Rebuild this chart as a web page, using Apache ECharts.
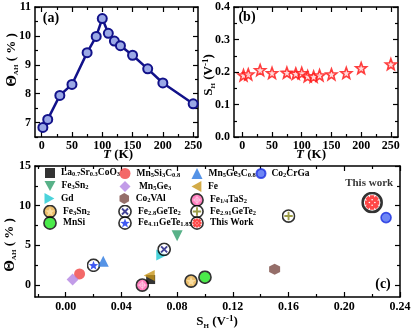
<!DOCTYPE html>
<html>
<head>
<meta charset="utf-8">
<script src="https://cdn.jsdelivr.net/npm/echarts@6/dist/echarts.min.js"></script>
<style>
  html, body { margin: 0; padding: 0; background: #fff; }
  #chart { width: 415px; height: 335px; }
</style>
</head>
<body>
<div id="chart"></div>
<script>
// (a)(b) temperature data
const tempK = [2, 10, 30, 50, 75, 90, 100, 110, 120, 130, 150, 175, 200, 250];
const thetaAH = [6.83, 7.11, 7.94, 8.32, 9.42, 9.98, 10.6, 10.09, 9.82, 9.66, 9.33, 8.86, 8.37, 7.65];
const sHvsT = [0.190, 0.193, 0.206, 0.197, 0.198, 0.195, 0.197, 0.187, 0.186, 0.190, 0.193, 0.197, 0.212, 0.224];

// (c) comparison of materials
const matIds = ['LSCO', 'Fe3Sn2-a', 'Gd', 'Fe3Sn2-b', 'MnSi', 'Mn5Si3C', 'Mn5Ge3', 'Co2VAl', 'Fe28GeTe2',
  'Fe411GeTe185', 'Mn5Ge3C', 'Fe', 'FeTaS2', 'Fe291GeTe2', 'ThisWork', 'Co2CrGa'];
const matLabels = ['La{s|0.7}Sr{s|0.3}CoO{s|3}', 'Fe{s|3}Sn{s|2}', 'Gd', 'Fe{s|3}Sn{s|2}', 'MnSi',
  'Mn{s|5}Si{s|3}C{s|0.8}', ' Mn{s|5}Ge{s|3}', 'Co{s|2}VAl', 'Fe{s|2.8}GeTe{s|2}', 'Fe{s|4.11}GeTe{s|1.85}',
  'Mn{s|5}Ge{s|3}C{s|0.8}', 'Fe', 'Fe{s|1/4}TaS{s|2}', 'Fe{s|2.91}GeTe{s|2}', 'This Work', 'Co{s|2}CrGa'];
const matSH = [0.061, 0.080, 0.069, 0.090, 0.100, 0.010, 0.005, 0.150, 0.0707, 0.020, 0.027, 0.060, 0.055, 0.160, 0.220, 0.230];
const matTheta = [0.7, 6.2, 3.8, 0.5, 1.0, 1.4, 0.7, 2.0, 4.5, 2.5, 3.0, 1.2, 0.0, 8.7, 10.4, 8.5];

// tick labels
const ticksT = [0, 50, 100, 150, 200, 250];
const minorT = [25, 75, 125, 175, 225];
const ticksThetaA = [7, 8, 9, 10, 11];
const minorThetaA = [6.5, 7.5, 8.5, 9.5, 10.5];
const ticksSB = [0, 0.1, 0.2, 0.3, 0.4];
const minorSB = [0.05, 0.15, 0.25, 0.35];
const ticksSC = [0, 0.04, 0.08, 0.12, 0.16, 0.2, 0.24];
const minorSC = [-0.02, 0.02, 0.06, 0.1, 0.14, 0.18, 0.22];
const ticksThetaC = [0, 5, 10, 15];
const minorThetaC = [2.5, 7.5, 12.5];

const fontFam = '"Liberation Serif", "Times New Roman", serif';

// 坐标轴：主刻度+次刻度，四边都画
function tickAxes (dim, gi, min, max, major, minor, fmt, margin) {
  const sides = dim === 'x' ? ['bottom', 'top'] : ['left', 'right'];
  const list = [];
  sides.forEach((pos, k) => {
    list.push({
      gridIndex: gi, type: 'value', min: min, max: max, position: pos,
      splitLine: { show: false },
      axisLine: { show: true, onZero: false, lineStyle: { color: '#000', width: 1.5 } },
      axisTick: { show: true, inside: true, length: 5, customValues: major, lineStyle: { color: '#000', width: 1.2 } },
      axisLabel: k === 0
        ? { show: true, customValues: major, formatter: fmt, margin: margin, color: '#000', fontFamily: fontFam, fontWeight: 'bold', fontSize: 12 }
        : { show: false }
    });
    list.push({
      gridIndex: gi, type: 'value', min: min, max: max, position: pos,
      splitLine: { show: false },
      axisLine: { show: false, onZero: false },
      axisTick: { show: true, inside: true, length: 3, customValues: minor, lineStyle: { color: '#000', width: 1.2 } },
      axisLabel: { show: false }
    });
  });
  return list;
}

function starPoints (cx, cy, R, r) {
  const pts = [];
  for (let k = 0; k < 10; k++) {
    const a = -Math.PI / 2 + k * Math.PI / 5;
    const rad = k % 2 ? r : R;
    pts.push((cx + rad * Math.cos(a)).toFixed(2) + ',' + (cy + rad * Math.sin(a)).toFixed(2));
  }
  return pts;
}
const starPath = 'path://M' + starPoints(50, 50, 50, 21).join(' L') + ' Z';

// 圆圈+内部符号
function ringIcon (fill, inner) {
  const svg = '<svg xmlns="http://www.w3.org/2000/svg" width="48" height="48" viewBox="0 0 24 24">' +
    '<circle cx="12" cy="12" r="10.4" fill="' + fill + '" stroke="#000" stroke-width="2.8"/>' + inner + '</svg>';
  return 'image://data:image/svg+xml;charset=utf-8,' + encodeURIComponent(svg);
}
const starIn = c => '<polygon points="' + starPoints(12, 12.8, 8.6, 3.6).join(' ') + '" fill="' + c + '"/>';
const crossIn = (c, w) => '<path d="M6.8 6.8L17.2 17.2M17.2 6.8L6.8 17.2" stroke="' + c + '" stroke-width="' + w + '"/>';
const plusIn = (c, w) => '<path d="M12 4.8V19.2M4.8 12H19.2" stroke="' + c + '" stroke-width="' + w + '"/>';
const burstIn = '<path d="M6.2 6.2L17.8 17.8M17.8 6.2L6.2 17.8M12 4.2V19.8M4.2 12H19.8" stroke="#ff1a1a" stroke-width="4.6"/>' +
  '<circle cx="12" cy="12" r="5" fill="#ff1a1a"/>' +
  '<circle cx="9" cy="12" r="0.9" fill="#fff"/><circle cx="15" cy="12" r="0.9" fill="#fff"/>' +
  '<circle cx="12" cy="9" r="0.9" fill="#fff"/><circle cx="12" cy="15" r="0.9" fill="#fff"/>';

const matSymbol = [
  'rect', 'path://M0,0 L10,0 L5,9 Z', 'path://M0,0 L0,10 L9,5 Z', ringIcon('#e6ad45', starIn('#f8d58a')),
  ringIcon('#1ee61e', ''), 'circle', 'diamond', 'path://M5,0 L9.33,2.5 L9.33,7.5 L5,10 L0.67,7.5 L0.67,2.5 Z',
  ringIcon('#fff', crossIn('#16167e', 3.2)), ringIcon('#fff', starIn('#1030f0')), 'triangle', 'path://M9,0 L9,10 L0,5 Z',
  ringIcon('#ff5fae', plusIn('#ffc6e3', 1.4) + '<circle cx="12" cy="12" r="4.2" fill="none" stroke="#ffc6e3" stroke-width="1.3"/>'),
  ringIcon('#fff', plusIn('#85851a', 3.2)), ringIcon('#fff', burstIn), 'circle'
];
const matColor = ['#000', '#2e9e6a', '#1ec8d2', '#000', '#000', '#f04444', '#b383e2', '#7a4a44', '#000',
  '#000', '#2a78e0', '#c8961a', '#000', '#000', '#000', '#3c5cf0'];
const matSize = [9, 11, 11, 14, 14, 11, 12, 11, 14, 14, 11, 11, 14, 14, 22, 10];
const legendSize = [10, 11, 11, 14, 14, 11, 11, 11, 14, 14, 11, 11, 14, 14, 14, 9];
const legendCol = [0, 0, 0, 0, 0, 1, 1, 1, 1, 1, 2, 2, 2, 2, 2, 3];
const legendRow = [0, 1, 2, 3, 4, 0, 1, 2, 3, 4, 0, 1, 2, 3, 4, 0];
const colX = [50, 125, 197, 260];
const rowY = [175, 188, 200, 211.5, 223];

const richSub = {
  s: { fontSize: 6.5, fontFamily: fontFam, fontWeight: 'bold', color: '#000', verticalAlign: 'bottom', lineHeight: 8 }
};

const titleRich = {
  th: { fontSize: 15, fontFamily: fontFam, fontWeight: 'bold', fill: '#000' },
  b: { fontSize: 13, fontFamily: fontFam, fontWeight: 'bold', fill: '#000' },
  it: { fontSize: 13, fontFamily: fontFam, fontWeight: 'bold', fontStyle: 'italic', fill: '#000' },
  sub: { fontSize: 7, fontFamily: fontFam, fontWeight: 'bold', fill: '#000', verticalAlign: 'bottom' },
  sup: { fontSize: 9, fontFamily: fontFam, fontWeight: 'bold', fill: '#000', verticalAlign: 'top' }
};
function title (text, x, y, rot) {
  return {
    type: 'text', x: x, y: y, rotation: rot ? Math.PI / 2 : 0,
    style: { text: text, align: 'center', verticalAlign: 'middle', rich: titleRich, lineHeight: 16 }
  };
}
function panelTag (text, x, y) {
  return {
    type: 'text', x: x, y: y,
    style: { text: text, align: 'center', verticalAlign: 'middle', fill: '#000', font: 'bold 14px ' + fontFam }
  };
}

const fmt0 = v => String(v);
const xAxes = [].concat(
  tickAxes('x', 0, -11, 258, ticksT, minorT, fmt0, 3),
  tickAxes('x', 1, -14, 262, ticksT, minorT, fmt0, 3),
  tickAxes('x', 2, -0.022, 0.24, ticksSC, minorSC, v => v.toFixed(2), 4)
);
const yAxes = [].concat(
  tickAxes('y', 0, 6.5, 11, ticksThetaA, minorThetaA, fmt0, 4),
  tickAxes('y', 1, 0, 0.4, ticksSB, minorSB, v => v.toFixed(1), 4),
  tickAxes('y', 2, -1.5, 15, ticksThetaC, minorThetaC, fmt0, 4)
);

const series = [
  {
    name: 'thetaT', type: 'line', xAxisIndex: 0, yAxisIndex: 0,
    data: tempK.map((t, i) => [t, thetaAH[i]]),
    symbol: 'circle', symbolSize: 9,
    lineStyle: { color: '#12128a', width: 2.5 },
    itemStyle: { color: '#9aa8e6', borderColor: '#12128a', borderWidth: 2 }
  },
  {
    name: 'sHT', type: 'scatter', xAxisIndex: 4, yAxisIndex: 4,
    data: tempK.map((t, i) => [t, sHvsT[i]]),
    symbol: starPath, symbolSize: 11,
    itemStyle: { color: '#ffd2d2', borderColor: '#ff1010', borderWidth: 1.6 }
  }
];
matIds.forEach((id, i) => {
  const s = {
    name: id, type: 'scatter', xAxisIndex: 8, yAxisIndex: 8,
    data: [[matSH[i], matTheta[i]]],
    symbol: matSymbol[i], symbolSize: matSize[i],
    itemStyle: { color: matColor[i] }
  };
  if (id === 'Co2CrGa') s.itemStyle = { color: '#4a68f2', borderColor: '#1a2ee0', borderWidth: 1.6 };
  if (id === 'ThisWork') {
    s.label = {
      show: true, position: 'top', distance: 3, offset: [-3, 0], formatter: 'This work',
      color: '#000', fontFamily: fontFam, fontWeight: 'bold', fontSize: 11
    };
  }
  series.push(s);
});

const legends = matIds.map((id, i) => ({
  data: [id],
  left: colX[legendCol[i]] - legendSize[i] / 2,
  top: rowY[legendRow[i]] - 7,
  padding: 0, itemGap: 0, selectedMode: false,
  itemWidth: legendSize[i], itemHeight: legendSize[i],
  formatter: () => matLabels[i],
  textStyle: { color: '#000', fontFamily: fontFam, fontWeight: 'bold', fontSize: 9.5, padding: [0, 0, 0, 1], rich: richSub }
}));

const myChart = echarts.init(document.getElementById('chart'), null, { renderer: 'canvas' });
myChart.setOption({
  animation: false,
  backgroundColor: '#fff',
  grid: [
    { left: 35, top: 7, width: 163, height: 130, outerBoundsMode: 'none' },
    { left: 234, top: 7, width: 164, height: 130, outerBoundsMode: 'none' },
    { left: 35, top: 166, width: 365, height: 131, outerBoundsMode: 'none' }
  ],
  xAxis: xAxes,
  yAxis: yAxes,
  legend: legends,
  graphic: [
    panelTag('(a)', 51, 18),
    panelTag('(b)', 247, 17),
    panelTag('(c)', 383, 284),
    title('{th|Θ}{sub|AH} {b|( % )}', 12, 60, true),
    title('{b|S}{sub|H} {b|(V}{sup|-1}{b|)}', 209, 75, true),
    title('{it|T} {b|(K)}', 118, 155, false),
    title('{it|T} {b|(K)}', 311, 155, false),
    title('{th|Θ}{sub|AH} {b|( % )}', 10, 245, true),
    title('{b|S}{sub|H} {b|(V}{sup|-1}{b|)}', 217, 322, false)
  ],
  series: series
});
</script>
</body>
</html>
